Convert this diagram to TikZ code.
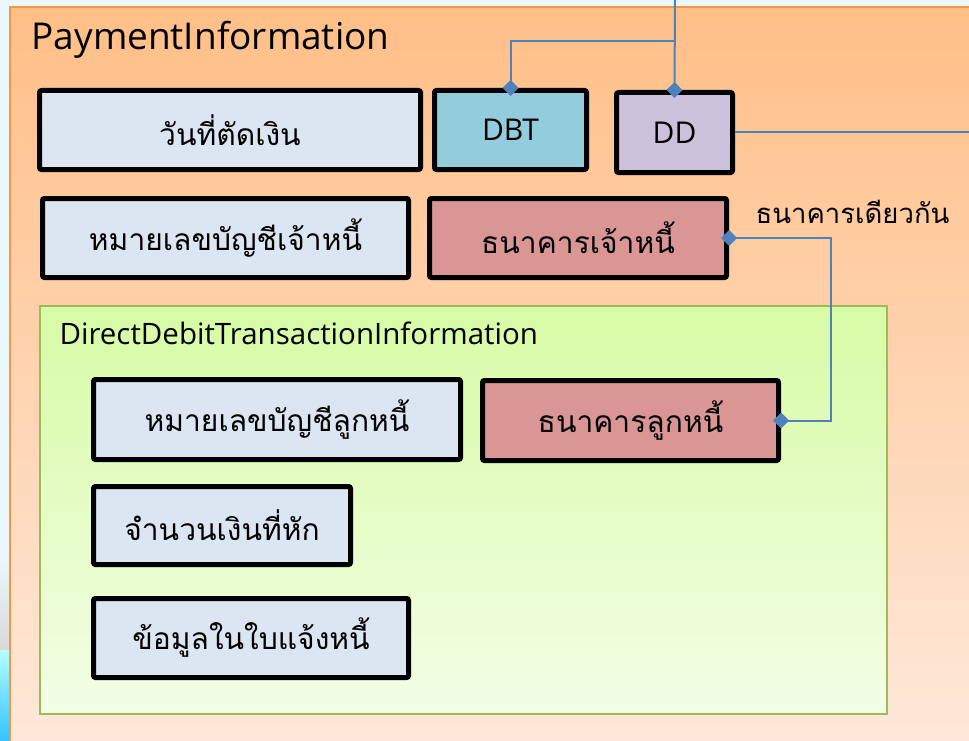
\documentclass[tikz,border=0pt]{standalone}
\usepackage{fontspec}
\setmainfont{Open Sans}
\newfontfamily\thaifont[Script=Thai]{Loma}
\usepackage{xcolor}
\usetikzlibrary{arrows.meta,positioning}

\definecolor{payorange}{HTML}{F79646}
\definecolor{paytop}{HTML}{FFBF87}
\definecolor{paybot}{HTML}{FEE9DA}
\definecolor{txgreen}{HTML}{9BBB59}
\definecolor{txtop}{HTML}{D7FBA5}
\definecolor{txbot}{HTML}{F3FEE6}
\definecolor{fieldblue}{HTML}{DCE6F2}
\definecolor{dbtcyan}{HTML}{93CDDD}
\definecolor{ddlilac}{HTML}{CCC1DA}
\definecolor{bankred}{HTML}{D99694}
\definecolor{linkblue}{HTML}{4F81BD}
\definecolor{pagecyan}{HTML}{EAF8FC}

\tikzstyle{field} = [draw=black, line width=5pt, rounded corners=2pt, fill=fieldblue, inner sep=0pt, font=\thaifont\fontsize{30}{36}\selectfont]
\tikzstyle{code} = [field, font=\fontsize{30}{36}\selectfont]
\tikzstyle{link} = [draw=linkblue, line width=2pt]
\tikzstyle{onediamond} = [link, -{Diamond[length=16pt,width=16pt]}, shorten >=-8pt]
\tikzstyle{twodiamond} = [link, {Diamond[length=16pt,width=16pt]}-{Diamond[length=16pt,width=16pt]}, shorten >=-8pt, shorten <=-8pt]

\begin{document}
\begin{tikzpicture}[x=1pt, y=-1pt]
            \useasboundingbox (0,0) rectangle (969,741);
            \fill[pagecyan] (0,0) rectangle (969,741);
            \shade[top color=pagecyan, bottom color=gray!30] (0,560) rectangle (10,650);
            \shade[top color=cyan!30, bottom color=cyan!70!blue!80] (0,650) rectangle (10,741);

            % outer group
            \shade[top color=paytop, bottom color=paybot, draw=payorange, line width=2pt] (10,7) rectangle (980,750);
            \node[anchor=west, font=\fontsize{37}{44}\selectfont] (paytitle) at (28,40) {PaymentInformation};

            \node[field, minimum width=381pt, minimum height=79pt] (date) at (230,130) {วันที่ตัดเงิน};
            \node[code, fill=dbtcyan, minimum width=152pt, minimum height=79pt] (dbt) at (510.5,130) {DBT};
            \node[code, fill=ddlilac, minimum width=116pt, minimum height=80pt] (dd) at (674.5,132.5) {DD};

            \node[field, minimum width=366pt, minimum height=79pt] (cacct) at (225.5,238) {หมายเลขบัญชีเจ้าหนี้};
            \node[field, fill=bankred, minimum width=297pt, minimum height=79pt] (cbank) at (578,238) {ธนาคารเจ้าหนี้};
            \node[anchor=west, font=\thaifont\fontsize{27.5}{33}\selectfont] (same) at (752,212) {ธนาคารเดียวกัน};

            % inner group
            \shade[top color=txtop, bottom color=txbot, draw=txgreen, line width=2pt] (40,306) rectangle (887,714);
            \node[anchor=west, font=\fontsize{29.5}{35}\selectfont] (txtitle) at (56,333) {DirectDebitTransactionInformation};

            \node[field, minimum width=367pt, minimum height=80pt] (dacct) at (277,419.5) {หมายเลขบัญชีลูกหนี้};
            \node[field, fill=bankred, minimum width=296pt, minimum height=80pt] (dbank) at (630.5,420.5) {ธนาคารลูกหนี้};
            \node[field, minimum width=257pt, minimum height=78pt] (amount) at (222,525.5) {จำนวนเงินที่หัก};
            \node[field, minimum width=315pt, minimum height=79pt] (invoice) at (251,638) {ข้อมูลในใบแจ้งหนี้};

            % connectors
            \coordinate (intop) at (675,0);
            \coordinate (split) at (675,41);
            \coordinate (ddout) at (969,0);
            \draw[onediamond] (intop) -- (dd.north);
            \draw[onediamond] (split) -| (dbt.north);
            \draw[link] (dd.east) -- (dd.east -| ddout);
            \draw[twodiamond] (cbank.east) -- ++(102,0) |- (dbank.east);
\end{tikzpicture}
\end{document}
